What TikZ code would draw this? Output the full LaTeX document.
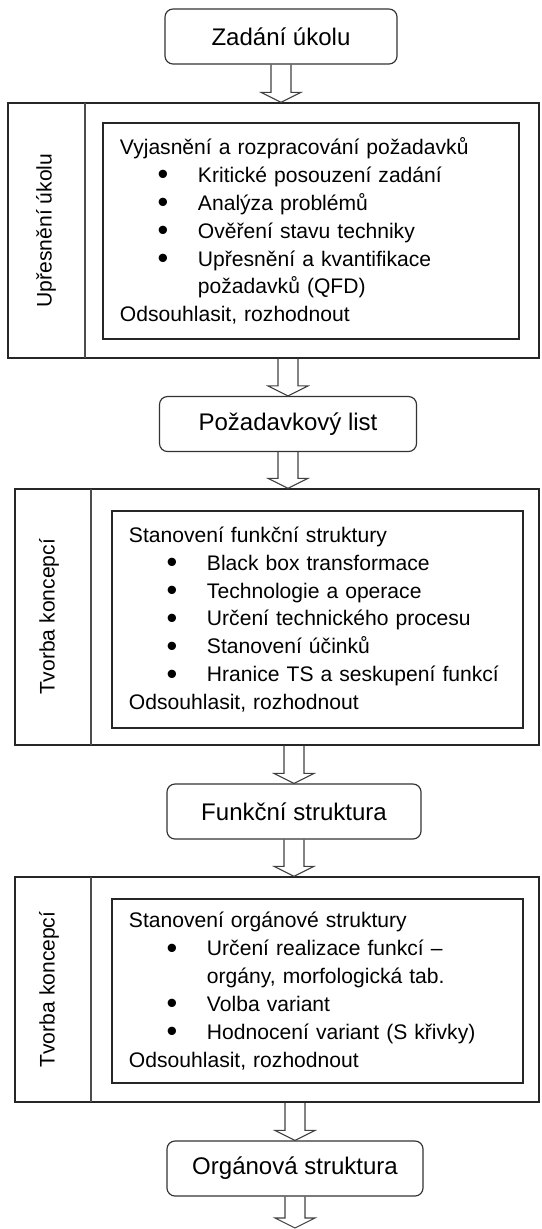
\documentclass[tikz,border=0pt]{standalone}
\usepackage{fontspec}
\setmainfont{Liberation Sans}
\usetikzlibrary{calc}
% bullet with its indent, then the item text
\newcommand{\bitem}{\makebox[2.34cm][l]{\hspace{1.14cm}\makebox[0.3cm]{\raisebox{-0.12em}{\scalebox{1.45}{\textbullet}}}}}
% hollow block arrow from #1 down to #2
\newcommand{\flowarrow}[2]{%
\draw[hollow] ($(#1)+(-10,0)$) -- ($(#2)+(-10,-10)$) -- ($(#2)+(-20,-10)$) -- (#2)
  -- ($(#2)+(20,-10)$) -- ($(#2)+(10,-10)$) -- ($(#1)+(10,0)$);}
\begin{document}
\begin{tikzpicture}[x=0.03cm,y=-0.03cm,
  titlebox/.style={draw=black!80,line width=1pt,rounded corners=0.24cm,
    minimum height=1.65cm,font=\fontsize{20.5}{24}\selectfont},
  phasebox/.style={draw=black!85,line width=1.2pt},
  innerbox/.style={draw=black!85,line width=1.2pt,align=left,inner xsep=0.51cm,
    font=\fontsize{18}{23.8}\selectfont},
  sepline/.style={draw=black!70,line width=1.6pt},
  sidelabel/.style={rotate=90,font=\fontsize{18}{22}\selectfont},
  hollow/.style={draw=black!75,line width=0.9pt}]
\useasboundingbox (0,0) rectangle (542,1229);

\node[titlebox,minimum width=6.96cm] (zadani) at (281,36.5) {Zadání úkolu};

% first phase
\node[phasebox,minimum width=15.93cm,minimum height=7.65cm] (phase1) at (273.5,230.5) {};
\draw[sepline] (85,103) -- (85,358);
\node[sidelabel] at (46,230.5) {Upřesnění úkolu};
\node[innerbox,text width=11.46cm,minimum height=6.48cm] (task) at (311,231)
  {Vyjasnění a rozpracování požadavků\\
   \bitem Kritické posouzení zadání\\
   \bitem Analýza problémů\\
   \bitem Ověření stavu techniky\\
   \bitem Upřesnění a kvantifikace\\
   \hspace*{2.34cm}požadavků (QFD)\\
   Odsouhlasit, rozhodnout};

\node[titlebox,minimum width=7.71cm] (pozad) at (288,424) {Požadavkový list};

% second phase
\node[phasebox,minimum width=15.72cm,minimum height=7.68cm] (phase2) at (277,617) {};
\draw[sepline] (91,489) -- (91,745);
\node[sidelabel] at (49,617) {Tvorba koncepcí};
\node[innerbox,text width=11.31cm,minimum height=6.51cm] (funcs) at (317.5,619.5)
  {Stanovení funkční struktury\\
   \bitem Black box transformace\\
   \bitem Technologie a operace\\
   \bitem Určení technického procesu\\
   \bitem Stanovení účinků\\
   \bitem Hranice TS a seskupení funkcí\\
   Odsouhlasit, rozhodnout};

\node[titlebox,minimum width=7.62cm] (funkc) at (294,811.5) {Funkční struktura};

% third phase
\node[phasebox,minimum width=15.72cm,minimum height=6.75cm] (phase3) at (277,989.5) {};
\draw[sepline] (91,877) -- (91,1102);
\node[sidelabel] at (49,989.5) {Tvorba koncepcí};
\node[innerbox,text width=11.31cm,minimum height=5.52cm] (organs) at (317.5,991)
  {Stanovení orgánové struktury\\
   \bitem Určení realizace funkcí –\\
   \hspace*{2.34cm}orgány, morfologická tab.\\
   \bitem Volba variant\\
   \bitem Hodnocení variant (S křivky)\\
   Odsouhlasit, rozhodnout};

\node[titlebox,minimum width=7.68cm] (organ) at (295,1168.5) {Orgánová struktura};
\coordinate (out) at (295,1228);

% arrows
\flowarrow{zadani.south}{zadani.south |- phase1.north}
\flowarrow{pozad.north |- phase1.south}{pozad.north}
\flowarrow{pozad.south}{pozad.south |- phase2.north}
\flowarrow{funkc.north |- phase2.south}{funkc.north}
\flowarrow{funkc.south}{funkc.south |- phase3.north}
\flowarrow{organ.north |- phase3.south}{organ.north}
\flowarrow{organ.south}{out}
\end{tikzpicture}
\end{document}
